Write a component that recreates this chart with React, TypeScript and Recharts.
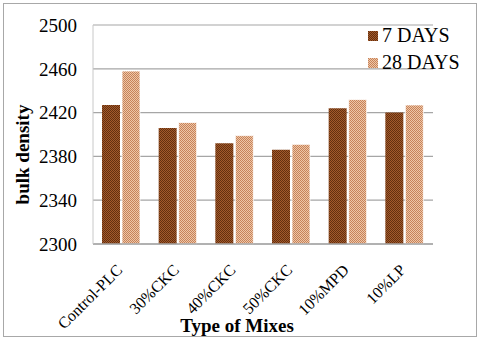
import { Bar, BarChart, CartesianGrid, XAxis, YAxis } from "recharts";

const mixes = ["Control-PLC", "30%CKC", "40%CKC", "50%CKC", "10%MPD", "10%LP"];
const days7 = [2427, 2406, 2392, 2386, 2424, 2420];
const days28 = [2458, 2411, 2399, 2391, 2432, 2427];
const yTicks = [2300, 2340, 2380, 2420, 2460, 2500];

const data = mixes.map((mix, i) => ({ mix, "7 DAYS": days7[i], "28 DAYS": days28[i] }));

const serif = "Times New Roman, Liberation Serif, DejaVu Serif, serif";

function MixTick({ x, y, payload }: any) {
  return (
    <g transform={`translate(${x + 2},${y + 19})`}>
      <text textAnchor="end" transform="rotate(-45)" style={{ fontFamily: serif }} fontSize={16} fill="#000">
        {payload.value}
      </text>
    </g>
  );
}

function LegendBox() {
  const items = [
    { label: "7 DAYS", fill: "url(#dark)" },
    { label: "28 DAYS", fill: "url(#light)" },
  ];
  return (
    <div style={{ position: "absolute", left: 368, top: 22, fontFamily: serif, fontSize: 20, color: "#000" }}>
      {items.map((it) => (
        <div key={it.label} style={{ display: "flex", alignItems: "center", height: 27 }}>
          <svg width={10} height={10} style={{ marginRight: 4 }}>
            <rect width={10} height={10} fill={it.fill} />
          </svg>
          <span>{it.label}</span>
        </div>
      ))}
    </div>
  );
}

export default function App() {
  return (
    <div style={{ position: "absolute", left: 0, top: 0, width: 480, height: 341, background: "#fff", fontFamily: serif }}>
      <div style={{ position: "absolute", left: 3, top: 3, width: 472, height: 332, border: "1.5px solid #a8a8a8" }} />
      <BarChart width={480} height={341} data={data} margin={{ top: 25, right: 47, left: 0, bottom: 0 }} barGap={2} barSize={18} style={{ fontFamily: serif }}>
        <defs>
          <pattern id="dark" width={2} height={2} patternUnits="userSpaceOnUse">
            <rect width={2} height={2} fill="#a35a2c" />
            <rect width={1} height={1} fill="#64300f" />
            <rect x={1} y={1} width={1} height={1} fill="#64300f" />
          </pattern>
          <pattern id="light" width={2} height={2} patternUnits="userSpaceOnUse">
            <rect width={2} height={2} fill="#eec6a6" />
            <rect width={1} height={1} fill="#c6825a" />
            <rect x={1} y={1} width={1} height={1} fill="#c6825a" />
          </pattern>
        </defs>
        <CartesianGrid vertical={false} stroke="#a6a6a6" strokeWidth={1.2} />
        <XAxis
          dataKey="mix"
          height={97}
          interval={0}
          tickLine={false}
          tick={<MixTick />}
          stroke="#a6a6a6"
          strokeWidth={1.5}
          label={{ value: "Type of Mixes", position: "insideBottom", offset: 9, dx: -26, fontSize: 19, fontWeight: "bold", fill: "#000", style: { fontFamily: serif } }}
        />
        <YAxis
          width={93}
          domain={[2300, 2500]}
          ticks={yTicks}
          tickLine={false}
          tickSize={0}
          tickMargin={16}
          stroke="#c8c8c8"
          tick={{ fontSize: 19, fill: "#000", style: { fontFamily: serif } }}
          label={{ value: "bulk density", angle: -90, position: "insideLeft", offset: 22, dy: 20, fontSize: 19, fontWeight: "bold", fill: "#000", style: { textAnchor: "middle", fontFamily: serif } }}
        />
        <Bar dataKey="7 DAYS" fill="url(#dark)" isAnimationActive={false} />
        <Bar dataKey="28 DAYS" fill="url(#light)" stroke="#fff" strokeWidth={0.8} isAnimationActive={false} />
      </BarChart>
      <LegendBox />
    </div>
  );
}
